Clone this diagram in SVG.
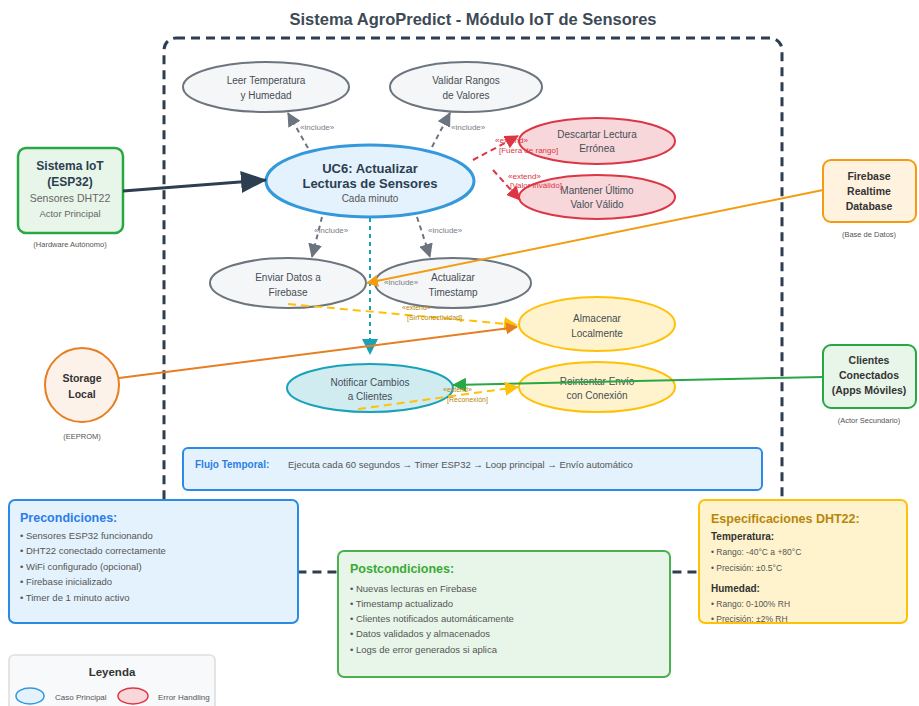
<svg xmlns="http://www.w3.org/2000/svg" width="919" height="706" viewBox="0 0 919 706">
<style>
text{font-family:"Liberation Sans",Arial,sans-serif;}
.uc{stroke-width:2;}
.gray{fill:#f5f6f8;stroke:#6c757d;}
.red{fill:#f8d7da;stroke:#dc3545;}
.yel{fill:#fff3cd;stroke:#ffc107;}
.t{font-size:10px;fill:#454d55;text-anchor:middle;}
.lbl{font-size:8px;fill:#7a8088;}
.ext{font-size:8px;fill:#dc3545;}
.exy{font-size:7px;fill:#b8860b;}
.sm{font-size:7.5px;fill:#555;text-anchor:middle;}
.item{font-size:9.5px;fill:#555;}
.act{font-size:10.5px;font-weight:bold;fill:#333;text-anchor:middle;}
</style>
<defs>
<marker id="mGray" markerWidth="14" markerHeight="14" refX="13" refY="7" orient="auto" markerUnits="userSpaceOnUse"><path d="M0,0 L14,7 L0,14 z" fill="#6c757d"/></marker>
<marker id="mDark" markerWidth="26" markerHeight="22" refX="25" refY="11" orient="auto" markerUnits="userSpaceOnUse"><path d="M0,0 L26,11 L0,22 z" fill="#2c3e50"/></marker>
<marker id="mRed" markerWidth="14" markerHeight="14" refX="13" refY="7" orient="auto" markerUnits="userSpaceOnUse"><path d="M0,0 L14,7 L0,14 z" fill="#dc3545"/></marker>
<marker id="mTeal" markerWidth="16" markerHeight="16" refX="15" refY="8" orient="auto" markerUnits="userSpaceOnUse"><path d="M0,0 L16,8 L0,16 z" fill="#17a2b8"/></marker>
<marker id="mOrange" markerWidth="12" markerHeight="12" refX="11" refY="6" orient="auto" markerUnits="userSpaceOnUse"><path d="M0,0 L12,6 L0,12 z" fill="#f39c12"/></marker>
<marker id="mOrange2" markerWidth="12" markerHeight="12" refX="11" refY="6" orient="auto" markerUnits="userSpaceOnUse"><path d="M0,0 L12,6 L0,12 z" fill="#e67e22"/></marker>
<marker id="mYel" markerWidth="14" markerHeight="14" refX="13" refY="7" orient="auto" markerUnits="userSpaceOnUse"><path d="M0,0 L14,7 L0,14 z" fill="#ffc107"/></marker>
<marker id="mGreen" markerWidth="14" markerHeight="14" refX="13" refY="7" orient="auto" markerUnits="userSpaceOnUse"><path d="M0,0 L14,7 L0,14 z" fill="#28a745"/></marker>
</defs>
<rect width="919" height="706" fill="#ffffff"/>
<text x="473" y="25" text-anchor="middle" font-size="16.5" font-weight="bold" fill="#3d4a56">Sistema AgroPredict - Módulo IoT de Sensores</text>
<rect id="boundary" x="164" y="38" width="618" height="534" rx="12" fill="none" stroke="#2c3e50" stroke-width="3" stroke-dasharray="9,6"/>

<g id="uc_leer"><ellipse class="uc gray" cx="266" cy="87" rx="83" ry="25"/><text class="t" x="266" y="84">Leer Temperatura</text><text class="t" x="266" y="99">y Humedad</text></g>
<g id="uc_validar"><ellipse class="uc gray" cx="466" cy="87" rx="76" ry="25"/><text class="t" x="466" y="84">Validar Rangos</text><text class="t" x="466" y="99">de Valores</text></g>
<g id="uc_main"><ellipse cx="370" cy="181" rx="104" ry="36" fill="#e3f2fd" stroke="#3498db" stroke-width="3"/><text x="370" y="173" text-anchor="middle" font-size="13" font-weight="bold" fill="#2c3e50">UC6: Actualizar</text><text x="370" y="188" text-anchor="middle" font-size="13" font-weight="bold" fill="#2c3e50">Lecturas de Sensores</text><text x="370" y="202" text-anchor="middle" font-size="10" fill="#555">Cada minuto</text></g>
<g id="uc_descartar"><ellipse class="uc red" cx="597" cy="141" rx="78" ry="23"/><text class="t" x="597" y="138">Descartar Lectura</text><text class="t" x="597" y="152">Errónea</text></g>
<g id="uc_mantener"><ellipse class="uc red" cx="597" cy="197" rx="78" ry="22"/><text class="t" x="597" y="194">Mantener Último</text><text class="t" x="597" y="208">Valor Válido</text></g>
<g id="uc_enviar"><ellipse class="uc gray" cx="288" cy="283" rx="78" ry="25"/><text class="t" x="288" y="281">Enviar Datos a</text><text class="t" x="288" y="296">Firebase</text></g>
<g id="uc_timestamp"><ellipse class="uc gray" cx="453" cy="283" rx="78" ry="25"/><text class="t" x="453" y="281">Actualizar</text><text class="t" x="453" y="296">Timestamp</text></g>
<g id="uc_almacenar"><ellipse class="uc yel" cx="597" cy="324" rx="78" ry="27"/><text class="t" x="597" y="322">Almacenar</text><text class="t" x="597" y="337">Localmente</text></g>
<g id="uc_reintentar"><ellipse class="uc yel" cx="597" cy="387" rx="78" ry="25"/><text class="t" x="597" y="385">Reintentar Envío</text><text class="t" x="597" y="399">con Conexión</text></g>
<g id="uc_notificar"><ellipse cx="370" cy="388" rx="83" ry="24" fill="#d1ecf1" stroke="#17a2b8" stroke-width="2"/><text class="t" x="370" y="386">Notificar Cambios</text><text class="t" x="370" y="400">a Clientes</text></g>

<g id="actor_iot"><rect x="18" y="148" width="105" height="85" rx="8" fill="#e8f5e9" stroke="#28a745" stroke-width="2.5"/><text x="70" y="170" text-anchor="middle" font-size="12" font-weight="bold" fill="#2c3e50">Sistema IoT</text><text x="70" y="186" text-anchor="middle" font-size="12" font-weight="bold" fill="#2c3e50">(ESP32)</text><text x="70" y="202" text-anchor="middle" font-size="10.5" fill="#666">Sensores DHT22</text><text x="70" y="217" text-anchor="middle" font-size="9.5" fill="#666">Actor Principal</text><text class="sm" x="70" y="247">(Hardware Autónomo)</text></g>
<g id="actor_firebase"><rect x="823" y="160" width="93" height="62" rx="8" fill="#fff3e0" stroke="#f39c12" stroke-width="2"/><text class="act" x="869" y="180">Firebase</text><text class="act" x="869" y="195">Realtime</text><text class="act" x="869" y="210">Database</text><text class="sm" x="869" y="237" font-size="6.5">(Base de Datos)</text></g>
<g id="actor_clientes"><rect x="823" y="345" width="93" height="63" rx="8" fill="#e8f5e9" stroke="#28a745" stroke-width="2"/><text class="act" x="869" y="364">Clientes</text><text class="act" x="869" y="379">Conectados</text><text class="act" x="869" y="394">(Apps Móviles)</text><text class="sm" x="869" y="423" font-size="6.5">(Actor Secundario)</text></g>
<g id="actor_storage"><circle cx="82" cy="385" r="37" fill="#fdf2e9" stroke="#e67e22" stroke-width="2"/><text class="act" x="82" y="382">Storage</text><text class="act" x="82" y="398">Local</text><text class="sm" x="82" y="439">(EEPROM)</text></g>

<g id="connectors" fill="none">
<line x1="123" y1="191" x2="266" y2="180" stroke="#2c3e50" stroke-width="3" marker-end="url(#mDark)"/>
<line x1="308" y1="148" x2="288" y2="113" stroke="#6c757d" stroke-width="2" stroke-dasharray="5,4" marker-end="url(#mGray)"/>
<line x1="432" y1="147" x2="450" y2="113" stroke="#6c757d" stroke-width="2" stroke-dasharray="5,4" marker-end="url(#mGray)"/>
<line x1="322" y1="217" x2="312" y2="257" stroke="#6c757d" stroke-width="2" stroke-dasharray="5,4" marker-end="url(#mGray)"/>
<line x1="417" y1="217" x2="430" y2="257" stroke="#6c757d" stroke-width="2" stroke-dasharray="5,4" marker-end="url(#mGray)"/>
<line x1="473" y1="160" x2="518" y2="136" stroke="#dc3545" stroke-width="2" stroke-dasharray="6,4" marker-end="url(#mRed)"/>
<line x1="493" y1="170" x2="520" y2="200" stroke="#dc3545" stroke-width="2" stroke-dasharray="6,4" marker-end="url(#mRed)"/>
<line x1="370" y1="218" x2="370" y2="354" stroke="#17a2b8" stroke-width="2" stroke-dasharray="4,4" marker-end="url(#mTeal)"/>
<line x1="823" y1="190" x2="367" y2="283" stroke="#f39c12" stroke-width="2" marker-end="url(#mOrange)"/>
<line x1="288" y1="304" x2="517" y2="325" stroke="#ffc107" stroke-width="2" stroke-dasharray="8,5" marker-end="url(#mYel)"/>
<line x1="119" y1="378" x2="517" y2="327" stroke="#e67e22" stroke-width="2" marker-end="url(#mOrange2)"/>
<line x1="823" y1="377" x2="453" y2="385" stroke="#28a745" stroke-width="2" marker-end="url(#mGreen)"/>
<line x1="358" y1="409" x2="518" y2="387" stroke="#ffc107" stroke-width="2" stroke-dasharray="8,5" marker-end="url(#mYel)"/>
<text class="lbl" x="300" y="130">«include»</text>
<text class="lbl" x="451" y="130">«include»</text>
<text class="lbl" x="314" y="233">«include»</text>
<text class="lbl" x="428" y="233">«include»</text>
<text class="lbl" x="384" y="285" fill="#5b86b0">«include»</text>
<text class="ext" x="495" y="143">«extend»</text>
<text class="ext" x="499" y="153" font-size="6.5">[Fuera de rango]</text>
<text class="ext" x="508" y="179">«extend»</text>
<text class="ext" x="510" y="188" font-size="6">[Valor inválido]</text>
<text class="exy" x="402" y="310">«extend»</text>
<text class="exy" x="407" y="320">[Sin conectividad]</text>
<text class="exy" x="443" y="392">«extend»</text>
<text class="exy" x="447" y="402">[Reconexión]</text>
</g>

<g id="flujo"><rect x="183" y="448" width="579" height="42" rx="5" fill="#e3f2fd" stroke="#2b8ae6" stroke-width="2"/><text x="195" y="468" font-size="10" font-weight="bold" fill="#2b7de9">Flujo Temporal:</text><text x="288" y="468" font-size="9.5" fill="#555">Ejecuta cada 60 segundos → Timer ESP32 → Loop principal → Envío automático</text></g>

<g id="precondiciones"><rect x="9" y="500" width="289" height="123" rx="6" fill="#e3f2fd" stroke="#2b8ae6" stroke-width="2"/><text x="20" y="522" font-size="12.5" font-weight="bold" fill="#2b7de9">Precondiciones:</text>
<text class="item" x="20" y="539">• Sensores ESP32 funcionando</text><text class="item" x="20" y="554">• DHT22 conectado correctamente</text><text class="item" x="20" y="570">• WiFi configurado (opcional)</text><text class="item" x="20" y="585">• Firebase inicializado</text><text class="item" x="20" y="601">• Timer de 1 minuto activo</text></g>

<g id="postcondiciones"><rect x="338" y="551" width="332" height="126" rx="6" fill="#e8f5e9" stroke="#4caf50" stroke-width="2"/><text x="350" y="573" font-size="12.5" font-weight="bold" fill="#3aaa35">Postcondiciones:</text>
<text class="item" x="350" y="592">• Nuevas lecturas en Firebase</text><text class="item" x="350" y="607">• Timestamp actualizado</text><text class="item" x="350" y="622">• Clientes notificados automáticamente</text><text class="item" x="350" y="637">• Datos validados y almacenados</text><text class="item" x="350" y="653">• Logs de error generados si aplica</text></g>

<g id="especificaciones"><rect x="699" y="500" width="208" height="123" rx="6" fill="#fff3cd" stroke="#ffc107" stroke-width="2"/><text x="711" y="523" font-size="12.5" font-weight="bold" fill="#b8860b">Especificaciones DHT22:</text>
<text x="711" y="540" font-size="10" font-weight="bold" fill="#333">Temperatura:</text>
<text x="711" y="555" font-size="8.5" fill="#555">• Rango: -40°C a +80°C</text>
<text x="711" y="571" font-size="8.5" fill="#555">• Precisión: ±0.5°C</text>
<text x="711" y="592" font-size="10" font-weight="bold" fill="#333">Humedad:</text>
<text x="711" y="607" font-size="8.5" fill="#555">• Rango: 0-100% RH</text>
<text x="711" y="622" font-size="8.5" fill="#555">• Precisión: ±2% RH</text></g>

<g id="leyenda"><rect x="9" y="655" width="206" height="60" rx="5" fill="#f8f9fa" stroke="#dddddd" stroke-width="1.5"/><text x="112" y="676" text-anchor="middle" font-size="11.5" font-weight="bold" fill="#333">Leyenda</text>
<ellipse cx="30" cy="696" rx="14" ry="8" fill="#e3f2fd" stroke="#3498db" stroke-width="1.5"/><text x="55" y="700" font-size="8" fill="#555">Caso Principal</text>
<ellipse cx="133" cy="696" rx="15" ry="8" fill="#f8d7da" stroke="#dc3545" stroke-width="1.5"/><text x="158" y="700" font-size="8" fill="#555">Error Handling</text></g>
</svg>
